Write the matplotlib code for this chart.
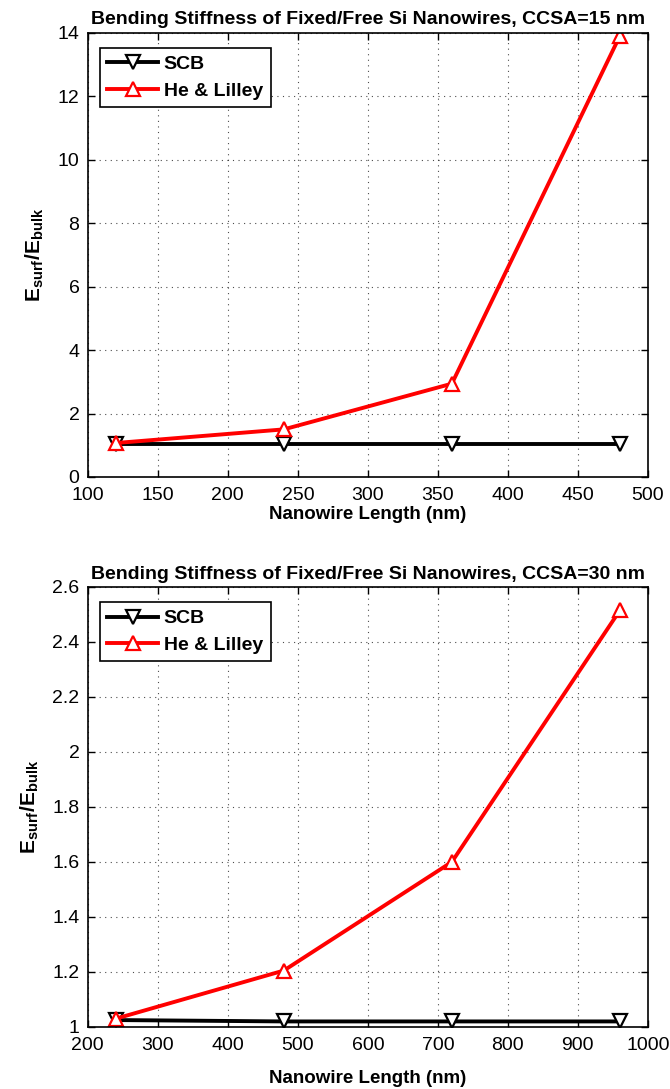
import matplotlib
matplotlib.use("Agg")
import matplotlib.pyplot as plt

plt.rcParams['font.family'] = ['Liberation Sans', 'DejaVu Sans']
plt.rcParams['mathtext.fontset'] = 'custom'
plt.rcParams['mathtext.rm'] = 'Liberation Sans'
plt.rcParams['mathtext.bf'] = 'Liberation Sans:bold'

# top panel: CCSA = 15 nm
len15 = [120, 240, 360, 480]
scb15 = [1.03, 1.03, 1.03, 1.03]
hl15 = [1.07, 1.50, 2.94, 13.9]

# bottom panel: CCSA = 30 nm
len30 = [240, 480, 720, 960]
scb30 = [1.025, 1.02, 1.02, 1.02]
hl30 = [1.03, 1.205, 1.60, 2.515]

fig = plt.figure(figsize=(6.7, 10.89), dpi=100)
ax1 = fig.add_axes([0.131, 0.562, 0.836, 0.408])
ax2 = fig.add_axes([0.131, 0.057, 0.836, 0.404])

ylab = r'$\mathbf{E}_{\mathbf{surf}}\mathbf{/E}_{\mathbf{bulk}}$'


def panel(ax, x, scb, hl, title, xlim, xticks, ylim, yticks, ytl, xlpad):
    ax.plot(x, scb, color='black', lw=2.8, marker='v', ms=10, mfc='white',
            mec='black', mew=1.6, label='SCB')
    ax.plot(x, hl, color='red', lw=2.8, marker='^', ms=10, mfc='white',
            mec='red', mew=1.6, label='He & Lilley')
    ax.set_xlim(*xlim)
    ax.set_ylim(*ylim)
    ax.set_xticks(xticks)
    ax.set_yticks(yticks)
    ax.set_yticklabels(ytl)
    ax.grid(True, linestyle=(0, (1, 4)), color='black', lw=0.8, alpha=0.7)
    ax.tick_params(direction='in', top=True, right=True, labelsize=14,
                   length=5, width=1)
    ax.tick_params(axis='x', pad=7)
    ax.tick_params(axis='y', pad=6)
    for s in ax.spines.values():
        s.set_linewidth(1.2)
    ax.set_title(title, fontsize=14, fontweight='bold', pad=6)
    ax.set_xlabel('Nanowire Length (nm)', fontsize=13.5, fontweight='bold',
                  labelpad=xlpad)
    ax.set_ylabel(ylab, fontsize=15, labelpad=8)
    leg = ax.legend(loc='upper left', prop={'weight': 'bold', 'size': 14},
                    fancybox=False, edgecolor='black', framealpha=1,
                    handlelength=2.6, borderpad=0.4, labelspacing=0.45,
                    handletextpad=0.3, borderaxespad=0,
                    bbox_to_anchor=(0.021, 0.966))
    leg.get_frame().set_linewidth(1.2)


panel(ax1, len15, scb15, hl15,
      'Bending Stiffness of Fixed/Free Si Nanowires, CCSA=15 nm',
      (100, 500), range(100, 501, 50), (0, 14), range(0, 15, 2),
      [str(v) for v in range(0, 15, 2)], 2)

yt2 = [1.0, 1.2, 1.4, 1.6, 1.8, 2.0, 2.2, 2.4, 2.6]
panel(ax2, len30, scb30, hl30,
      'Bending Stiffness of Fixed/Free Si Nanowires, CCSA=30 nm',
      (200, 1000), range(200, 1001, 100), (1, 2.6), yt2,
      ['1', '1.2', '1.4', '1.6', '1.8', '2', '2.2', '2.4', '2.6'], 12)

fig.savefig('out.png', dpi=100)
